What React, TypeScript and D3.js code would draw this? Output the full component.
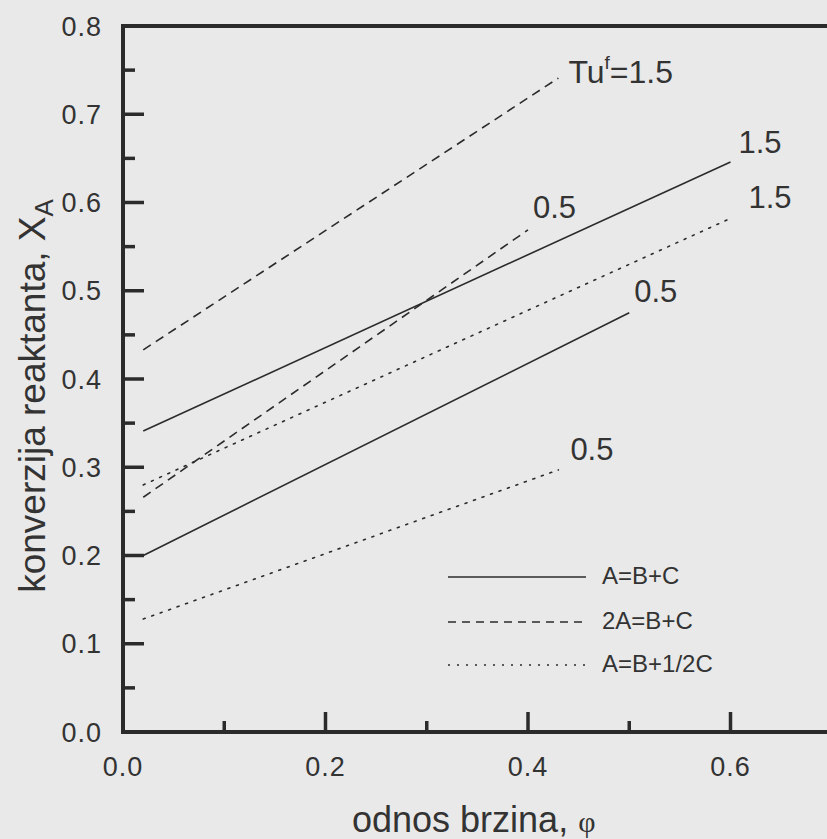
import React from "react";
import * as d3 from "d3";

// φ (velocity ratio) and X_A (reactant conversion) for each reaction / Tu^f curve
const phiStart = [0.02, 0.02, 0.02, 0.02, 0.02, 0.02];
const phiEnd = [0.6, 0.5, 0.43, 0.4, 0.6, 0.43];
const xaStart = [0.341, 0.2, 0.433, 0.266, 0.28, 0.128];
const xaEnd = [0.646, 0.475, 0.741, 0.569, 0.582, 0.297];
const curveStyle = ["solid", "solid", "dashed", "dashed", "dotted", "dotted"];
const curveTu = ["1.5", "0.5", "1.5", "0.5", "1.5", "0.5"];

const xMajorTicks = [0, 0.2, 0.4, 0.6];
const xMinorTicks = [0.1, 0.3, 0.5];
const yMajorTicks = [0, 0.1, 0.2, 0.3, 0.4, 0.5, 0.6, 0.7, 0.8];
const yMinorTicks = [0.05, 0.15, 0.25, 0.35, 0.45, 0.55, 0.65, 0.75];

const legendStyles = ["solid", "dashed", "dotted"];
const legendLabels = ["A=B+C", "2A=B+C", "A=B+1/2C"];

const W = 827;
const H = 839;
const INK = "#2b2b2b";
const TEXT = "#333333";
const FONT = "'Liberation Sans', Arial, Helvetica, sans-serif";

const dashFor = (s: string) =>
  s === "dashed" ? "9 6" : s === "dotted" ? "2 7" : undefined;

export default function App() {
  const x = d3.scaleLinear().domain([0, 0.7]).range([123, 831.75]);
  const y = d3.scaleLinear().domain([0, 0.8]).range([732, 26]);

  const line = d3
    .line<[number, number]>()
    .x((d) => x(d[0]))
    .y((d) => y(d[1]));

  const curves = phiStart.map((p, i) => ({
    pts: [
      [p, xaStart[i]],
      [phiEnd[i], xaEnd[i]],
    ] as [number, number][],
    style: curveStyle[i],
  }));

  // curve annotations: Tu^f value placed near each curve's end
  const annot = [
    { i: 0, dx: 8, dy: -9 },
    { i: 1, dx: 5, dy: -11 },
    { i: 3, dx: 5, dy: -12 },
    { i: 4, dx: 18, dy: -10 },
    { i: 5, dx: 12, dy: -10 },
  ];

  const legendY = [577, 622, 665];

  return (
    <div style={{ position: "absolute", left: 0, top: 0 }}>
      <svg width={W} height={H} style={{ display: "block" }}>
        <rect x={0} y={0} width={W} height={H} fill="#e9e9e9" />

        {/* curves */}
        {curves.map((c, i) => (
          <path
            key={i}
            d={line(c.pts) || ""}
            fill="none"
            stroke={INK}
            strokeWidth={1.6}
            strokeDasharray={dashFor(c.style)}
            strokeLinecap={c.style === "dotted" ? "round" : "butt"}
          />
        ))}

        {/* frame */}
        <line x1={x(0)} x2={W + 10} y1={y(0.8)} y2={y(0.8)} stroke={INK} strokeWidth={4} />
        <line x1={x(0)} x2={W + 10} y1={y(0)} y2={y(0)} stroke={INK} strokeWidth={4} />
        <line x1={x(0)} x2={x(0)} y1={y(0.8) - 2} y2={y(0) + 2} stroke={INK} strokeWidth={4} />

        {/* x ticks */}
        {xMajorTicks.map((t) => (
          <line key={"xM" + t} x1={x(t)} x2={x(t)} y1={y(0)} y2={y(0) - 20} stroke={INK} strokeWidth={3.5} />
        ))}
        {xMinorTicks.map((t) => (
          <line key={"xm" + t} x1={x(t)} x2={x(t)} y1={y(0)} y2={y(0) - 11} stroke={INK} strokeWidth={3.5} />
        ))}
        {xMajorTicks.map((t) => (
          <text
            key={"xl" + t}
            x={x(t)}
            y={776}
            textAnchor="middle"
            fontFamily={FONT}
            fontSize={27}
            letterSpacing={1}
            fill={TEXT}
          >
            {d3.format(".1f")(t)}
          </text>
        ))}

        {/* y ticks */}
        {yMajorTicks.map((t) => (
          <line key={"yM" + t} x1={x(0)} x2={x(0) + 21} y1={y(t)} y2={y(t)} stroke={INK} strokeWidth={3.5} />
        ))}
        {yMinorTicks.map((t) => (
          <line key={"ym" + t} x1={x(0)} x2={x(0) + 12} y1={y(t)} y2={y(t)} stroke={INK} strokeWidth={3.5} />
        ))}
        {yMajorTicks.map((t) => (
          <text
            key={"yl" + t}
            x={102}
            y={y(t) + 9.5}
            textAnchor="end"
            fontFamily={FONT}
            fontSize={27}
            letterSpacing={1}
            fill={TEXT}
          >
            {d3.format(".1f")(t)}
          </text>
        ))}

        {/* curve labels */}
        <text x={x(phiEnd[2]) + 10} y={y(xaEnd[2]) + 5} fontFamily={FONT} fontSize={32} fill={TEXT}>
          Tu
          <tspan fontSize={19} dy={-14}>f</tspan>
          <tspan dy={14}>=1.5</tspan>
        </text>
        {annot.map((a) => (
          <text
            key={"a" + a.i}
            x={x(phiEnd[a.i]) + a.dx}
            y={y(xaEnd[a.i]) + a.dy}
            fontFamily={FONT}
            fontSize={31}
            fill={TEXT}
          >
            {curveTu[a.i]}
          </text>
        ))}

        {/* legend */}
        {legendStyles.map((s, i) => (
          <g key={"lg" + i}>
            <line
              x1={448}
              x2={586}
              y1={legendY[i]}
              y2={legendY[i]}
              stroke={INK}
              strokeWidth={1.5}
              strokeDasharray={s === "dashed" ? "8 6" : s === "dotted" ? "2 7" : undefined}
            />
            <text x={602} y={legendY[i] + 7} fontFamily={FONT} fontSize={24} fill={TEXT}>
              {legendLabels[i]}
            </text>
          </g>
        ))}

        {/* axis titles */}
        <text x={352} y={832} fontFamily={FONT} fontSize={36} fill={TEXT}>
          odnos brzina,{" "}
          <tspan fontFamily="'Liberation Serif', 'DejaVu Serif', serif" fontSize={30}>
            φ
          </tspan>
        </text>
        <text
          transform="translate(45,396) rotate(-90)"
          textAnchor="middle"
          fontFamily={FONT}
          fontSize={37}
          fill={TEXT}
        >
          konverzija reaktanta, X
          <tspan fontSize={26} dy={8}>A</tspan>
        </text>
      </svg>
    </div>
  );
}
